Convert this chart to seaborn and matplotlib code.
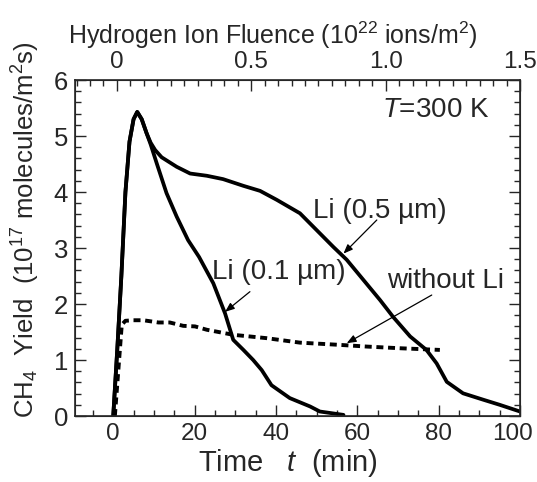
#!/usr/bin/env python
"""
CH4 yield vs time for Li-coated and bare targets (T = 300 K).
"""

import matplotlib.pyplot as plt
import matplotlib.transforms as mtransforms
import pandas as pd
import seaborn as sns
from matplotlib.ticker import MultipleLocator

# Li (0.5 um) coating
li05_t = [0, 1, 2, 3, 4, 5, 5.9, 7, 8.2, 9.2, 10.3, 11.9, 15.6, 18.9, 23, 27, 32,
          36.1, 40.2, 45.9, 50, 54.1, 57.4, 61.5, 65.6, 68.8, 73, 77, 79.5, 82,
          86, 91, 95, 100]
li05_y = [0, 1.2, 2.5, 4.0, 4.9, 5.3, 5.43, 5.3, 5.05, 4.88, 4.75, 4.62, 4.45,
          4.33, 4.29, 4.23, 4.11, 4.02, 3.86, 3.62, 3.32, 3.02, 2.79, 2.43, 2.07,
          1.77, 1.42, 1.18, 0.94, 0.61, 0.405, 0.29, 0.2, 0.08]

# Li (0.1 um) coating
li01_t = [0, 1, 2, 3, 4, 5, 5.9, 7, 8.2, 9.2, 10.7, 13.1, 15.6, 18.4, 21.1, 24.6,
          27.5, 29.5, 32, 34.4, 36.5, 38.9, 43.4, 48.4, 50.8, 56.6]
li01_y = [0, 1.2, 2.5, 4.0, 4.9, 5.3, 5.43, 5.3, 5.05, 4.85, 4.51, 3.98, 3.56,
          3.14, 2.84, 2.37, 1.83, 1.36, 1.18, 1.0, 0.82, 0.55, 0.32, 0.17, 0.08,
          0.02]

# without Li
bare_t = [0.4, 2.1, 3, 4.9, 7.4, 11.1, 13.9, 17.2, 20.1, 23, 29.5, 37.7, 45.9,
          55.7, 62.3, 70.5, 80.3]
bare_y = [0, 1.63, 1.7, 1.71, 1.71, 1.67, 1.67, 1.61, 1.6, 1.54, 1.45, 1.39,
          1.31, 1.27, 1.24, 1.21, 1.18]

fluence_ticks = [0, 0.5, 1.0, 1.5]
fluence_labels = ["0", "0.5", "1.0", "1.5"]
time_ticks = [0, 20, 40, 60, 80, 100]
yield_ticks = [0, 1, 2, 3, 4, 5, 6]


def main() -> None:
    sns.set_style("ticks")
    plt.rcParams["font.family"] = ["Liberation Sans", "DejaVu Sans"]
    plt.rcParams["mathtext.fontset"] = "custom"
    plt.rcParams["mathtext.rm"] = "Liberation Sans"
    plt.rcParams["mathtext.it"] = "Liberation Sans:italic"
    plt.rcParams["axes.unicode_minus"] = False

    df05 = pd.DataFrame({"t": li05_t, "y": li05_y})
    df01 = pd.DataFrame({"t": li01_t, "y": li01_y})
    dfb = pd.DataFrame({"t": bare_t, "y": bare_y})

    fig = plt.figure(figsize=(5.37, 4.82), dpi=100)
    ax = fig.add_axes([75 / 537, 66 / 482, 445 / 537, 336 / 482])

    sns.lineplot(data=df05, x="t", y="y", ax=ax, color="black", lw=2.7,
                 sort=False, estimator=None)
    sns.lineplot(data=df01, x="t", y="y", ax=ax, color="black", lw=2.7,
                 sort=False, estimator=None)
    sns.lineplot(data=dfb, x="t", y="y", ax=ax, color="black", lw=2.8,
                 sort=False, estimator=None, dashes=False)
    ax.lines[-1].set_dashes((1.8, 1.2))

    ax.set_xlim(-9.4, 100)
    ax.set_ylim(0, 6)
    tick_font = dict(family="Liberation Sans", fontsize=17.5)
    ax.set_xticks(time_ticks)
    ax.set_xticklabels([str(v) for v in time_ticks], **tick_font)
    ax.set_yticks(yield_ticks)
    ax.set_yticklabels([str(v) for v in yield_ticks], family="Liberation Sans",
                       fontsize=18.5)
    ax.xaxis.set_minor_locator(MultipleLocator(5))
    ax.yaxis.set_minor_locator(MultipleLocator(0.2))
    ax.tick_params(which="both", direction="in", right=True, top=False,
                   width=1, pad=5)
    ax.tick_params(which="major", length=8)
    ax.tick_params(which="minor", length=4.5)
    for s in ax.spines.values():
        s.set_linewidth(1.2)
    # the last time label sits a little inside the right edge, as in the source
    last = ax.get_xticklabels()[-1]
    last.set_transform(last.get_transform()
                       + mtransforms.ScaledTranslation(-7 / 100, 0,
                                                       fig.dpi_scale_trans))

    ax.set_xlabel(r"Time   $\it{t}$  (min)", fontsize=21)
    ax.xaxis.set_label_coords(0.478, -0.093)
    ax.set_ylabel(r"CH$_4$  Yield  (10$^{17}$ molecules/m$^2$s)", fontsize=18.5)
    ax.yaxis.set_label_coords(-0.075, 0.554)

    top = ax.twiny()
    top.set_xlim(-0.156, 1.5)
    top.set_xticks(fluence_ticks)
    top.set_xticklabels(fluence_labels, **tick_font)
    top.xaxis.set_minor_locator(MultipleLocator(0.05))
    top.tick_params(which="both", direction="in", pad=5, width=1)
    top.tick_params(which="major", length=8)
    top.tick_params(which="minor", length=4.5)
    top.set_xlabel(r"Hydrogen Ion Fluence (10$^{22}$ ions/m$^2$)", fontsize=18)
    top.xaxis.set_label_coords(0.445, 1.107)

    ax.text(92.4, 5.46, r"$\it{T}$=300 K", fontsize=20, ha="right", va="center")

    arrow = dict(arrowstyle="-|>,head_length=0.55,head_width=0.22",
                 color="black", lw=0.9, shrinkA=0, shrinkB=0)
    ax.annotate("", xy=(56.6, 2.9), xytext=(64.8, 3.5), arrowprops=arrow)
    ax.annotate("", xy=(27.5, 1.86), xytext=(33.6, 2.22), arrowprops=arrow)
    ax.annotate("", xy=(57.4, 1.3), xytext=(78.3, 2.16), arrowprops=arrow)
    ax.text(65.6, 3.66, "Li (0.5 µm)", fontsize=20, ha="center", va="center")
    ax.text(40.7, 2.57, "Li (0.1 µm)", fontsize=20, ha="center", va="center")
    ax.text(81.8, 2.41, "without Li", fontsize=20, ha="center", va="center")

    fig.savefig("out.png", dpi=100)
    plt.close(fig)


if __name__ == "__main__":
    main()
